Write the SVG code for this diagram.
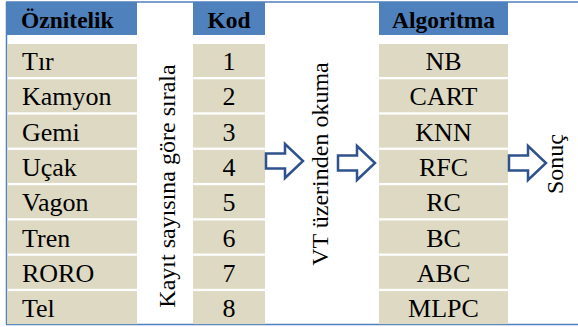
<svg xmlns="http://www.w3.org/2000/svg" width="578" height="327" viewBox="0 0 578 327">
  <defs>
    <!-- hollow block arrow, origin at the tail centre -->
    <path id="blockArrow" fill="#FFFFFF" stroke="#2F528F" stroke-width="2.5" d="M0,-7.5 H19 V-17 L37,0 L19,17 V7.5 H0 Z"/>
  </defs>

  <rect width="578" height="327" fill="#FFFFFF"/>

  <!-- outer frame: top, left and bottom rules -->
  <g id="frame" stroke="#4F81BD" stroke-width="1.5" fill="none">
    <line x1="6" y1="2" x2="578" y2="2"/>
    <line x1="6.5" y1="2" x2="6.5" y2="324.5"/>
    <line x1="6" y1="324.5" x2="578" y2="324.5"/>
  </g>

  <!-- header cells -->
  <g id="headers" font-family="Times New Roman, Liberation Serif, Tinos, serif" font-size="23.5" font-weight="bold">
    <g id="h-oznitelik"><rect fill="#4F81BD" x="7" y="2" width="130" height="33"/><text x="21" y="28">Öznitelik</text></g>
    <g id="h-kod"><rect fill="#4F81BD" x="193" y="2" width="72" height="33"/><text x="229" y="28" text-anchor="middle">Kod</text></g>
    <g id="h-algoritma"><rect fill="#4F81BD" x="379" y="2" width="129" height="33"/><text x="443.5" y="28" text-anchor="middle">Algoritma</text></g>
  </g>

  <!-- feature column -->
  <g id="col-oznitelik" font-family="Times New Roman, Liberation Serif, Tinos, serif" font-size="26">
    <g id="o1"><rect fill="#DDD9C3" x="7" y="44" width="130" height="33"/><text x="22" y="70">Tır</text></g>
    <g id="o2"><rect fill="#DDD9C3" x="7" y="79.3" width="130" height="33"/><text x="22" y="105.3">Kamyon</text></g>
    <g id="o3"><rect fill="#DDD9C3" x="7" y="114.6" width="130" height="33"/><text x="22" y="140.6">Gemi</text></g>
    <g id="o4"><rect fill="#DDD9C3" x="7" y="149.9" width="130" height="33"/><text x="22" y="175.9">Uçak</text></g>
    <g id="o5"><rect fill="#DDD9C3" x="7" y="185.2" width="130" height="33"/><text x="22" y="211.2">Vagon</text></g>
    <g id="o6"><rect fill="#DDD9C3" x="7" y="220.5" width="130" height="33"/><text x="22" y="246.5">Tren</text></g>
    <g id="o7"><rect fill="#DDD9C3" x="7" y="255.8" width="130" height="33"/><text x="22" y="281.8">RORO</text></g>
    <g id="o8"><rect fill="#DDD9C3" x="7" y="291.1" width="130" height="33"/><text x="22" y="317.1">Tel</text></g>
  </g>

  <!-- rotated step labels -->
  <g id="step-sort" font-family="Times New Roman, Liberation Serif, Tinos, serif" font-size="24" text-anchor="middle"><text transform="translate(175,186) rotate(-90)">Kayıt sayısına göre sırala</text></g>
  <g id="step-read" font-family="Times New Roman, Liberation Serif, Tinos, serif" font-size="24" text-anchor="middle"><text transform="translate(328,164) rotate(-90)">VT üzerinden okuma</text></g>
  <g id="step-result" font-family="Times New Roman, Liberation Serif, Tinos, serif" font-size="24" text-anchor="middle"><text transform="translate(563,164) rotate(-90)">Sonuç</text></g>

  <!-- code column -->
  <g id="col-kod" font-family="Times New Roman, Liberation Serif, Tinos, serif" font-size="26" text-anchor="middle">
    <g id="k1"><rect fill="#DDD9C3" x="193" y="44" width="72" height="33"/><text x="229" y="70">1</text></g>
    <g id="k2"><rect fill="#DDD9C3" x="193" y="79.3" width="72" height="33"/><text x="229" y="105.3">2</text></g>
    <g id="k3"><rect fill="#DDD9C3" x="193" y="114.6" width="72" height="33"/><text x="229" y="140.6">3</text></g>
    <g id="k4"><rect fill="#DDD9C3" x="193" y="149.9" width="72" height="33"/><text x="229" y="175.9">4</text></g>
    <g id="k5"><rect fill="#DDD9C3" x="193" y="185.2" width="72" height="33"/><text x="229" y="211.2">5</text></g>
    <g id="k6"><rect fill="#DDD9C3" x="193" y="220.5" width="72" height="33"/><text x="229" y="246.5">6</text></g>
    <g id="k7"><rect fill="#DDD9C3" x="193" y="255.8" width="72" height="33"/><text x="229" y="281.8">7</text></g>
    <g id="k8"><rect fill="#DDD9C3" x="193" y="291.1" width="72" height="33"/><text x="229" y="317.1">8</text></g>
  </g>

  <!-- algorithm column -->
  <g id="col-algoritma" font-family="Times New Roman, Liberation Serif, Tinos, serif" font-size="26" text-anchor="middle">
    <g id="a1"><rect fill="#DDD9C3" x="379" y="44" width="129" height="33"/><text x="443.5" y="70">NB</text></g>
    <g id="a2"><rect fill="#DDD9C3" x="379" y="79.3" width="129" height="33"/><text x="443.5" y="105.3">CART</text></g>
    <g id="a3"><rect fill="#DDD9C3" x="379" y="114.6" width="129" height="33"/><text x="443.5" y="140.6">KNN</text></g>
    <g id="a4"><rect fill="#DDD9C3" x="379" y="149.9" width="129" height="33"/><text x="443.5" y="175.9">RFC</text></g>
    <g id="a5"><rect fill="#DDD9C3" x="379" y="185.2" width="129" height="33"/><text x="443.5" y="211.2">RC</text></g>
    <g id="a6"><rect fill="#DDD9C3" x="379" y="220.5" width="129" height="33"/><text x="443.5" y="246.5">BC</text></g>
    <g id="a7"><rect fill="#DDD9C3" x="379" y="255.8" width="129" height="33"/><text x="443.5" y="281.8">ABC</text></g>
    <g id="a8"><rect fill="#DDD9C3" x="379" y="291.1" width="129" height="33"/><text x="443.5" y="317.1">MLPC</text></g>
  </g>

  <!-- connectors -->
  <g id="connectors">
    <use href="#blockArrow" x="266" y="161"/>
    <use href="#blockArrow" x="338" y="163"/>
    <use href="#blockArrow" x="509" y="163"/>
  </g>
</svg>
